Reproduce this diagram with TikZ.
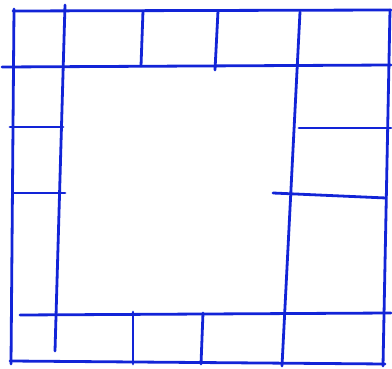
\documentclass[tikz,border=0pt]{standalone}
\definecolor{pen}{RGB}{18,36,215}
\begin{document}
\begin{tikzpicture}[x=1pt,y=-1pt,line cap=round,
  ink/.style={draw=pen,line width=2.8pt}]
\useasboundingbox (0,0) rectangle (392,369);
% outer frame
\draw[ink] (13,11) -- (391,10);
\draw[ink] (14,9) -- (11,364);
\draw[ink] (390,10) -- (383,366);
\draw[ink] (10,361) -- (385,364);
% inner frame
\draw[ink] (2,67) -- (391,65);
\draw[ink] (65,5) -- (55,351);
\draw[ink] (300,12) -- (282,366);
\draw[ink] (20,315) -- (391,313);
% top dividers
\draw[ink] (143,11) -- (141,66);
\draw[ink] (218,11) -- (215,70);
% left dividers
\draw[ink] (10,127) -- (63,127);
\draw[ink] (13,193) -- (65,193);
% right dividers
\draw[ink] (299,128) -- (391,128);
\draw[ink] (273,193) -- (386,198);
% bottom dividers
\draw[ink] (133,312) -- (133,364);
\draw[ink] (203,313) -- (201,364);
\end{tikzpicture}
\end{document}
